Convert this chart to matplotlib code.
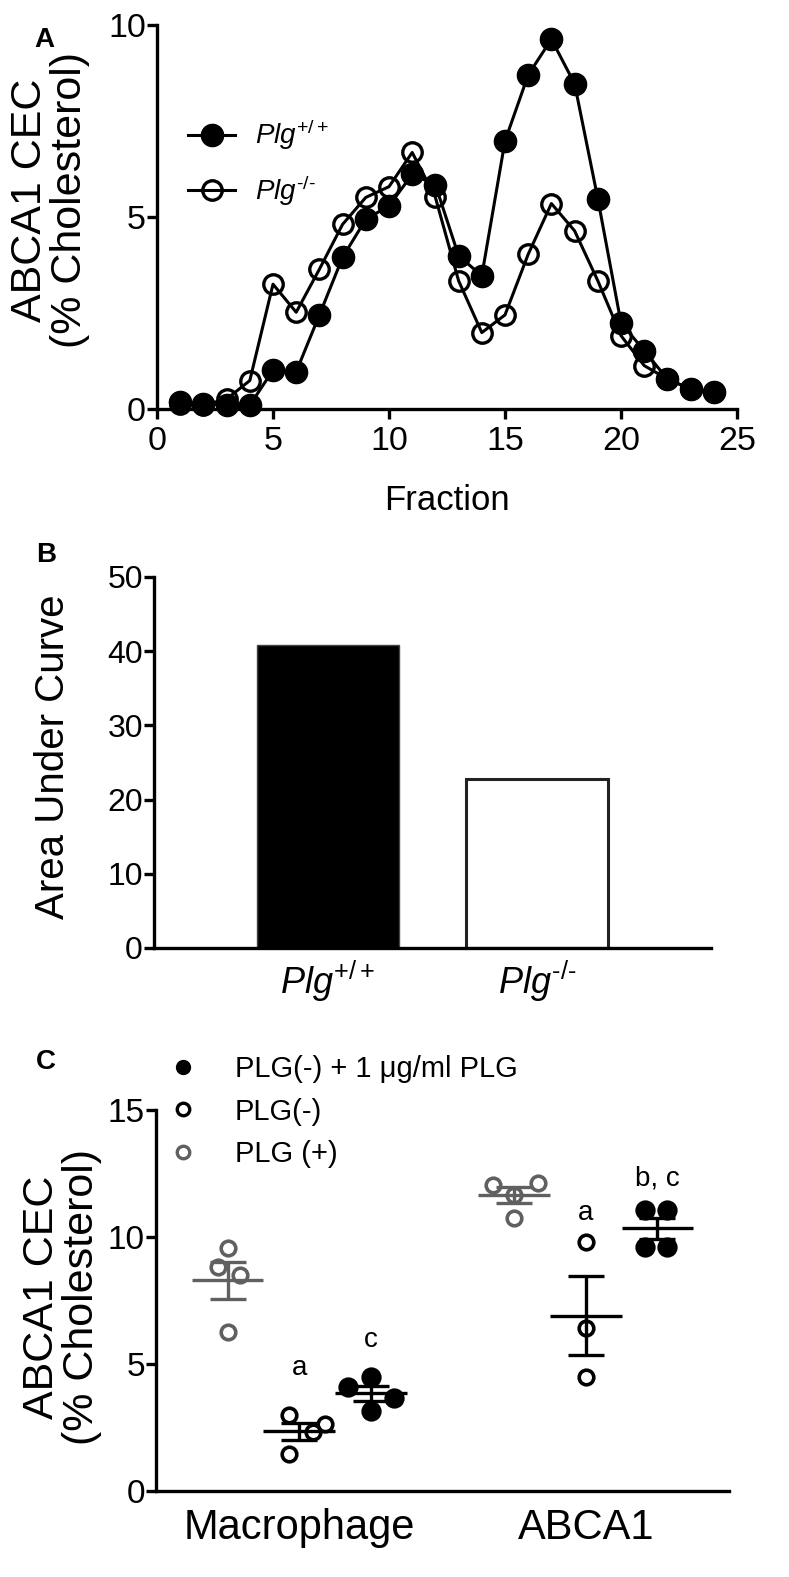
import matplotlib
matplotlib.use("Agg")
import matplotlib.pyplot as plt
import numpy as np

W, H = 789, 1577

# ---- panel A: ABCA1 CEC per FPLC fraction ----
fraction = list(range(1, 25))
plg_wt = [0.17, 0.13, 0.10, 0.10, 1.01, 0.97, 2.45, 3.95, 4.94, 5.29, 6.11, 5.84,
          3.99, 3.47, 6.98, 8.70, 9.63, 8.47, 5.48, 2.24, 1.52, 0.78, 0.52, 0.43]
plg_ko = [0.13, 0.10, 0.26, 0.74, 3.25, 2.52, 3.64, 4.81, 5.51, 5.79, 6.68, 5.51,
          3.34, 1.99, 2.45, 4.03, 5.35, 4.64, 3.34, 1.91, 1.13, 0.78, 0.52, 0.43]
legend_a = [r"$\mathit{Plg}^{+/+}$", "$\\mathit{Plg}^{\u2010/\u2010}$"]

# ---- panel B: area under curve ----
auc_labels = [r"$\mathit{Plg}^{+/+}$", "$\\mathit{Plg}^{\u2010/\u2010}$"]
auc_values = [40.8, 22.8]

# ---- panel C: CEC by cell type ----
cell_types = ["Macrophage", "ABCA1"]
series_names = ["PLG(-) + 1 \u03bcg/ml PLG", "PLG(-)", "PLG (+)"]
mac_plg_pos = [9.57, 8.82, 8.50, 6.26]
mac_plg_neg = [2.99, 2.64, 2.32, 1.46]
mac_plg_add = [4.09, 4.49, 3.66, 3.15]
abca_plg_pos = [12.05, 12.13, 11.65, 10.75]
abca_plg_neg = [9.80, 6.42, 4.49]
abca_plg_add = [11.06, 11.06, 9.61, 9.61]
letters = [("a", 2, 4.84), ("c", 3, 5.94), ("a", 6, 10.94), ("b, c", 7, 12.32)]

# horizontal spread of the dots (layout only)
spread = {
    "mac_pos": [0, -0.14, 0.17, 0],
    "mac_neg": [-0.14, 0.36, 0.19, -0.14],
    "mac_add": [-0.32, 0, 0.32, 0],
    "abca_pos": [-0.30, 0.33, 0, 0],
    "abca_neg": [0, 0, 0],
    "abca_add": [-0.17, 0.14, -0.17, 0.14],
}

GRAY = "#606060"
LW = 2.4

plt.rcParams.update({
    "font.family": ["Liberation Sans", "DejaVu Sans"],
    "mathtext.fontset": "custom",
    "mathtext.rm": "Liberation Sans",
    "mathtext.it": "Liberation Sans:italic",
    "axes.linewidth": LW,
    "xtick.major.width": LW,
    "ytick.major.width": LW,
    "xtick.major.size": 7,
    "ytick.major.size": 7,
    "xtick.direction": "out",
    "ytick.direction": "out",
})

fig = plt.figure(figsize=(W / 100, H / 100), dpi=100)


def px_axes(left, top, right, bottom):
    return fig.add_axes([left / W, 1 - bottom / H, (right - left) / W, (bottom - top) / H])


def style(ax):
    for s in ["top", "right"]:
        ax.spines[s].set_visible(False)


# ================= A =================
axA = px_axes(157, 25, 737, 409)
style(axA)
axA.plot(fraction, plg_ko, "-o", color="black", lw=2.2, ms=14, mfc="none", mew=2.4,
         clip_on=False, label=legend_a[1], zorder=3)
axA.plot(fraction, plg_wt, "-o", color="black", lw=2.2, ms=16, clip_on=False,
         label=legend_a[0], zorder=4)
axA.set_xlim(0, 25)
axA.set_ylim(0, 10)
axA.set_xticks(range(0, 26, 5))
axA.set_yticks([0, 5, 10])
axA.tick_params(axis="both", labelsize=24.5)
axA.tick_params(axis="y", pad=1)
axA.tick_params(axis="x", pad=5)
axA.set_xlabel("Fraction", fontsize=25, labelpad=20)
h, l = axA.get_legend_handles_labels()
axA.legend(h[::-1], l[::-1], loc="upper left", bbox_to_anchor=(188 / W, 1 - 118 / H),
           bbox_transform=fig.transFigure, frameon=False, fontsize=20, borderpad=0,
           borderaxespad=0, handlelength=1.7, handletextpad=0.7, labelspacing=0.75)
fig.text(50 / W, 1 - 200 / H, "ABCA1 CEC\n(% Cholesterol)", rotation=90, fontsize=31,
         ha="center", va="center", multialignment="center", linespacing=1.0)
fig.text(44 / W, 1 - 40 / H, "A", fontsize=20, fontweight="bold", ha="center", va="center")

# ================= B =================
axB = px_axes(154, 577, 711, 948)
style(axB)
bx = np.arange(len(auc_values))
axB.bar(bx[0], auc_values[0], width=0.68, color="black", edgecolor="#444444", lw=1)
axB.bar(bx[1], auc_values[1], width=0.68, color="white", edgecolor="#222222", lw=2.2)
axB.set_xlim(-0.83, 1.83)
axB.set_ylim(0, 50)
axB.set_yticks(range(0, 51, 10))
axB.set_xticks(bx)
axB.set_xticklabels(auc_labels)
axB.tick_params(axis="x", length=0, labelsize=26, pad=8)
axB.tick_params(axis="y", labelsize=23, pad=1)
fig.text(53 / W, 1 - 757 / H, "Area Under Curve", rotation=90, fontsize=29,
         ha="center", va="center")
fig.text(46 / W, 1 - 555 / H, "B", fontsize=20, fontweight="bold", ha="center", va="center")

# ================= C =================
axC = px_axes(156, 1110, 729, 1491)
style(axC)
groups = [
    (1, mac_plg_pos, spread["mac_pos"], GRAY, "none"),
    (2, mac_plg_neg, spread["mac_neg"], "black", "none"),
    (3, mac_plg_add, spread["mac_add"], "black", "black"),
    (5, abca_plg_pos, spread["abca_pos"], GRAY, "none"),
    (6, abca_plg_neg, spread["abca_neg"], "black", "none"),
    (7, abca_plg_add, spread["abca_add"], "black", "black"),
]
for pos, vals, offs, col, face in groups:
    vals = np.array(vals)
    xs = pos + np.array(offs)
    ms = 12 if face != "none" else 10.5
    axC.plot(xs, vals, "o", ms=ms, mfc=face, mec=col, mew=2.6, ls="none", zorder=3,
             clip_on=False)
    m = vals.mean()
    sem = vals.std(ddof=1) / np.sqrt(len(vals))
    axC.hlines(m, pos - 0.5, pos + 0.5, color=col, lw=2.4, zorder=4)
    axC.errorbar(pos, m, yerr=sem, color=col, lw=2.4, capsize=13, capthick=2.4,
                 zorder=4, fmt="none")

for txt, pos, yv in letters:
    axC.text(pos, yv, txt, ha="center", va="center", fontsize=20)

axC.set_xlim(0, 8)
axC.set_ylim(0, 15)
axC.set_yticks([0, 5, 10, 15])
axC.set_xticks([2, 6])
axC.set_xticklabels(cell_types)
axC.tick_params(axis="x", length=0, labelsize=30, pad=12)
axC.tick_params(axis="y", labelsize=24, pad=1)

leg_handles = [
    plt.Line2D([], [], ls="none", marker="o", ms=10, mfc="black", mec="black"),
    plt.Line2D([], [], ls="none", marker="o", ms=9, mfc="none", mec="black", mew=2.4),
    plt.Line2D([], [], ls="none", marker="o", ms=9, mfc="none", mec=GRAY, mew=2.4),
]
axC.legend(leg_handles, series_names, loc="upper left", bbox_to_anchor=(168 / W, 1 - 1055 / H),
           bbox_transform=fig.transFigure, frameon=False, fontsize=21, borderpad=0,
           borderaxespad=0, handlelength=1.0, handletextpad=1.3, labelspacing=0.5)
fig.text(62 / W, 1 - 1297 / H, "ABCA1 CEC\n(% Cholesterol)", rotation=90, fontsize=31,
         ha="center", va="center", multialignment="center", linespacing=1.0)
fig.text(46 / W, 1 - 1062 / H, "C", fontsize=20, fontweight="bold", ha="center", va="center")

fig.savefig("out.png", dpi=100)
